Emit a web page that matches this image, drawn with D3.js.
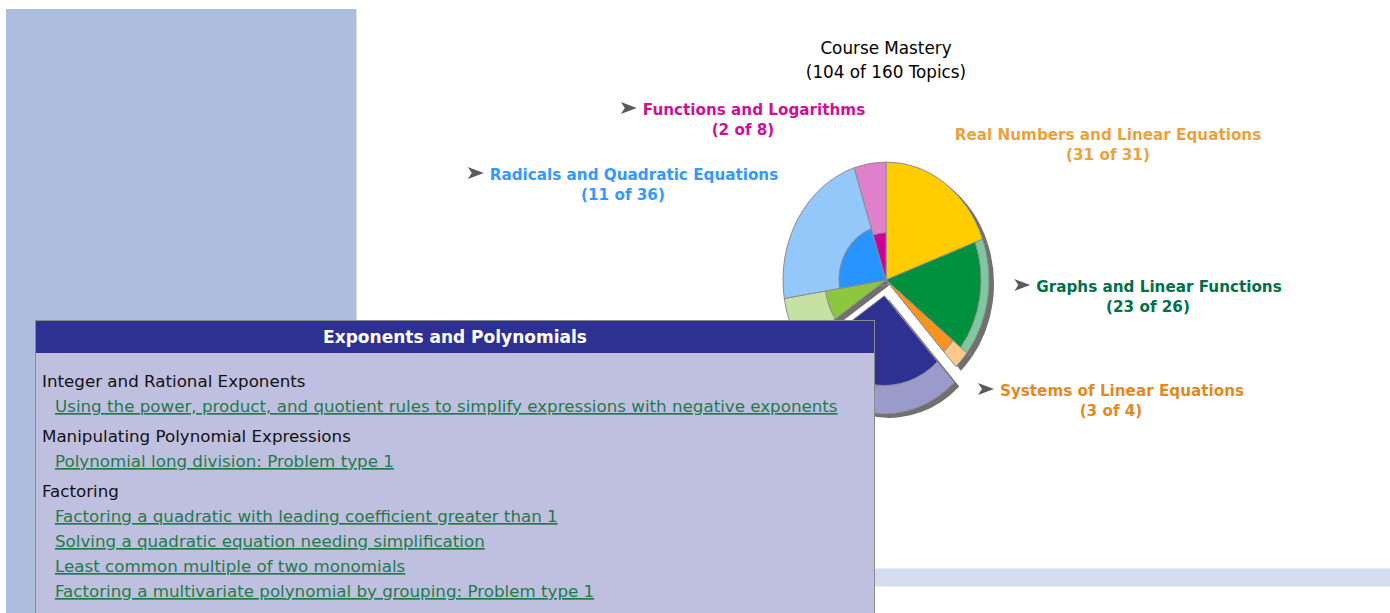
<!DOCTYPE html>
<html>
<head>
<meta charset="utf-8">
<script src="https://cdn.jsdelivr.net/npm/d3@7"></script>
<style>
  body { margin: 0; background: #fff; }
  svg { display: block; }
</style>
</head>
<body>
<svg id="chart" width="1390" height="613"></svg>
<script>
// chart data
var sectionNames = ["Real Numbers and Linear Equations", "Graphs and Linear Functions",
  "Systems of Linear Equations", "Exponents and Polynomials", "Rational Expressions",
  "Radicals and Quadratic Equations", "Functions and Logarithms"];
var sectionTotals = [31, 26, 4, 44, 11, 36, 8];
var sectionMastered = [31, 23, 3, 29, 5, 11, 2];
var readyArrow = [false, true, true, true, true, true, true];

var tooltipTitle = "Exponents and Polynomials";
var tooltipGroups = ["Integer and Rational Exponents", "Manipulating Polynomial Expressions", "Factoring"];
var tooltipTopics = [
  ["Using the power, product, and quotient rules to simplify expressions with negative exponents"],
  ["Polynomial long division: Problem type 1"],
  ["Factoring a quadratic with leading coefficient greater than 1",
   "Solving a quadratic equation needing simplification",
   "Least common multiple of two monomials",
   "Factoring a multivariate polynomial by grouping: Problem type 1"]
];

// colours
var innerColors = ["#FFCC00", "#00913F", "#F7931E", "#2E3192", "#8DC63F", "#2894FF", "#CC0099"];
var outerColors = ["#FFCC00", "#80C8A0", "#FDC88D", "#9A9ACB", "#C6E2A2", "#94C8FA", "#E080CC"];
var labelColors = ["#E8A33D", "#00704A", "#E08A1F", "#2E3192", "#8DC63F", "#3399FF", "#CC1199"];

// label layout (centre x, centre y of first line), hidden ones are null
var labelPos = [[1108, 135], [1148, 287], [1111, 391], null, null, [623, 175], [743, 110]];

var FONT = "'DejaVu Sans', Verdana, sans-serif";
var svg = d3.select("#chart");

// page background pieces
svg.append("rect").attr("x", 6).attr("y", 9).attr("width", 350).attr("height", 604).attr("fill", "#ADBDDE");
svg.append("rect").attr("x", 356).attr("y", 9).attr("width", 1).attr("height", 604).attr("fill", "#D6DEEF");
svg.append("rect").attr("x", 357).attr("y", 568).attr("width", 1033).attr("height", 19).attr("fill", "#E8EDF6");
svg.append("rect").attr("x", 357).attr("y", 569).attr("width", 1033).attr("height", 17).attr("fill", "#D3DDEE");

var cx = 886, cy = 280;
var R = 118, RX = 103;
var sx = RX / R;

function addText(parent, x, y, str, size, weight, color, anchor) {
  return parent.append("text")
    .attr("x", x).attr("y", y)
    .attr("text-anchor", anchor || "middle")
    .style("font-family", FONT)
    .style("font-size", size + "px")
    .style("font-weight", weight || "normal")
    .attr("fill", color)
    .text(str);
}

// title
addText(svg, cx, 54, "Course Mastery", 16.8, "normal", "#000");
addText(svg, cx, 78, "(" + d3.sum(sectionMastered) + " of " + d3.sum(sectionTotals) + " Topics)", 16.8, "normal", "#000");

// pie
var data = sectionNames.map(function(n, i) {
  return { name: n, total: sectionTotals[i], mastered: sectionMastered[i], i: i };
});
var pie = d3.pie().sort(null).value(function(d) { return d.total; });
var arcs = pie(data);

var rScale = d3.scalePow().exponent(0.66).domain([0, 1]).range([0, R]);
var outerArc = d3.arc().innerRadius(0).outerRadius(R);
var innerArc = d3.arc().innerRadius(0).outerRadius(function(d) { return rScale(d.data.mastered / d.data.total); });

var explodeIndex = 3, explodeDist = 16;
function offset(d) {
  if (d.data.i !== explodeIndex) return [0, 0];
  var a = (d.startAngle + d.endAngle) / 2;
  return [Math.sin(a) * explodeDist, -Math.cos(a) * explodeDist];
}

var shadow = svg.append("g").attr("transform", "translate(" + (cx + 5) + "," + (cy + 4) + ") scale(" + sx + ",1)");
shadow.selectAll("path").data(arcs).enter().append("path")
  .attr("transform", function(d) { return "translate(" + offset(d) + ")"; })
  .attr("d", outerArc)
  .attr("fill", "#707070");

var pieG = svg.append("g").attr("transform", "translate(" + cx + "," + cy + ") scale(" + sx + ",1)");
var slices = pieG.selectAll("g.slice").data(arcs).enter().append("g")
  .attr("class", "slice")
  .attr("transform", function(d) { return "translate(" + offset(d) + ")"; });

slices.append("path")
  .attr("d", outerArc)
  .attr("fill", function(d) { return outerColors[d.data.i]; })
  .attr("stroke", "#8c8c8c").attr("stroke-width", 1)
  .attr("vector-effect", "non-scaling-stroke");

slices.filter(function(d) { return d.data.mastered < d.data.total; })
  .append("path")
  .attr("d", innerArc)
  .attr("fill", function(d) { return innerColors[d.data.i]; })
  .attr("stroke", "#8c8c8c").attr("stroke-width", 1)
  .attr("vector-effect", "non-scaling-stroke");

// labels
var arrowPath = "M0,-6 L16,0 L0,6 L4,0 Z";
data.forEach(function(d, i) {
  var p = labelPos[i];
  if (!p) return;
  var g = svg.append("g");
  var t = addText(g, 0, p[1] + 5, d.name, 15.2, "bold", labelColors[i], "start");
  var w = t.node().getComputedTextLength();
  var full = readyArrow[i] ? w + 22 : w;
  var left = p[0] - full / 2;
  if (readyArrow[i]) {
    g.append("path").attr("d", arrowPath)
      .attr("transform", "translate(" + left + "," + (p[1] - 2) + ")")
      .attr("fill", "#5a5a5a");
    t.attr("x", left + 22);
  } else {
    t.attr("x", left);
  }
  addText(g, p[0], p[1] + 25, "(" + d.mastered + " of " + d.total + ")", 15.2, "bold", labelColors[i]);
});

// tooltip panel
var tip = svg.append("g");
tip.append("rect").attr("x", 35.5).attr("y", 320.5).attr("width", 839).attr("height", 300)
  .attr("fill", "#BFC0DF").attr("stroke", "#8a8a8a");
tip.append("rect").attr("x", 36).attr("y", 321).attr("width", 838).attr("height", 32)
  .attr("fill", "#2E3192");
addText(tip, 455, 343, tooltipTitle, 17, "bold", "#fff");

var y = 381;
tooltipGroups.forEach(function(gname, gi) {
  addText(tip, 42, y + 6, gname, 16.7, "normal", "#111", "start");
  y += 25;
  tooltipTopics[gi].forEach(function(topic) {
    addText(tip, 55, y + 6, topic, 16.7, "normal", "#1F7A4A", "start")
      .style("text-decoration", "underline");
    y += 25;
  });
  y += 5;
});
</script>
</body>
</html>
